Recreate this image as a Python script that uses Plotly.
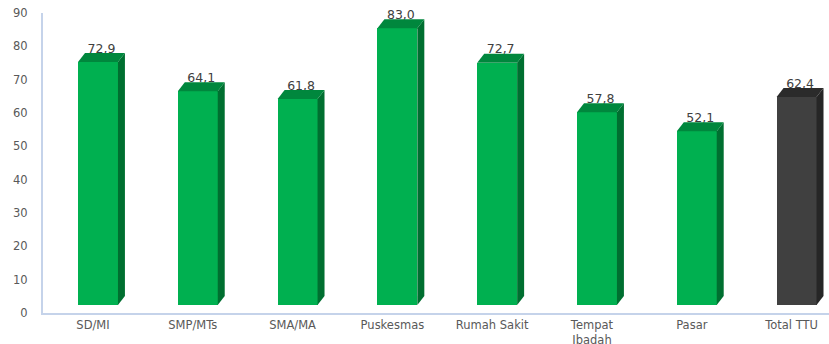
import plotly.graph_objects as go

categories = ["SD/MI", "SMP/MTs", "SMA/MA", "Puskesmas", "Rumah Sakit", "Tempat<br>Ibadah", "Pasar", "Total TTU"]
values = [72.9, 64.1, 61.8, 83.0, 72.7, 57.8, 52.1, 62.4]
value_labels = ["72,9", "64,1", "61,8", "83,0", "72,7", "57,8", "52,1", "62,4"]
y_ticks = [0, 10, 20, 30, 40, 50, 60, 70, 80, 90]

front_colors = ["#00B050"] * 7 + ["#404040"]
side_colors = ["#006F30"] * 7 + ["#262626"]
top_colors = ["#00873D"] * 7 + ["#2B2B2B"]

BASE = 2.4      # floor lift of 3D bars (data units)
W = 0.40        # front face width (category units)
DX = 0.07       # depth offset x
DY = 2.7        # depth offset y
OFF = 0.05      # face offset from tick

xs = [i + OFF for i in range(len(values))]

fig = go.Figure()

# front faces
fig.add_trace(go.Bar(
    x=xs, y=values, base=[BASE] * len(values), width=W,
    marker=dict(color=front_colors, line=dict(width=0)),
    hoverinfo="skip", showlegend=False,
))

# data labels (drawn before top faces so faces overlap slightly like reference)
fig.add_trace(go.Scatter(
    x=[x + DX / 2 for x in xs],
    y=[BASE + v + DY - 0.8 for v in values],
    mode="text", text=value_labels, textposition="top center",
    textfont=dict(family="DejaVu Sans", size=12.5, color="#404040"),
    hoverinfo="skip", showlegend=False, cliponaxis=False,
))

for x, v, sc, tc in zip(xs, values, side_colors, top_colors):
    x0 = x - W / 2
    x1 = x + W / 2
    top = BASE + v
    # side face
    fig.add_trace(go.Scatter(
        x=[x1, x1 + DX, x1 + DX, x1, x1],
        y=[BASE, BASE + DY, top + DY, top, BASE],
        fill="toself", fillcolor=sc, mode="lines", line=dict(width=0, color=sc),
        hoverinfo="skip", showlegend=False,
    ))
    # top face
    fig.add_trace(go.Scatter(
        x=[x0, x1, x1 + DX, x0 + DX, x0],
        y=[top, top, top + DY, top + DY, top],
        fill="toself", fillcolor=tc, mode="lines", line=dict(width=0, color=tc),
        hoverinfo="skip", showlegend=False,
    ))

fig.update_layout(
    width=829, height=344,
    margin=dict(l=43, r=0, t=13, b=31, autoexpand=False),
    paper_bgcolor="white", plot_bgcolor="white",
    font=dict(family="DejaVu Sans", size=11, color="#595959"),
    bargap=0,
)
fig.update_xaxes(
    range=[-0.501, 7.375], automargin=False,
    tickmode="array", tickvals=list(range(len(categories))), ticktext=categories,
    showgrid=False, zeroline=False,
    showline=True, linecolor="#C5D3EA", linewidth=2,
    ticks="", tickfont=dict(size=11.5, color="#595959"),
    fixedrange=True,
)
fig.update_yaxes(
    range=[0, 90], automargin=False, tickmode="array", tickvals=y_ticks,
    showgrid=False, zeroline=False,
    showline=True, linecolor="#C5D3EA", linewidth=2,
    ticks="", ticklabelstandoff=11, tickfont=dict(size=11.5, color="#595959"),
    fixedrange=True,
)

fig.write_html(
    "out.html",
    config={"displayModeBar": False},
    post_script="document.body.style.margin='0';document.body.style.overflow='hidden';",
)
